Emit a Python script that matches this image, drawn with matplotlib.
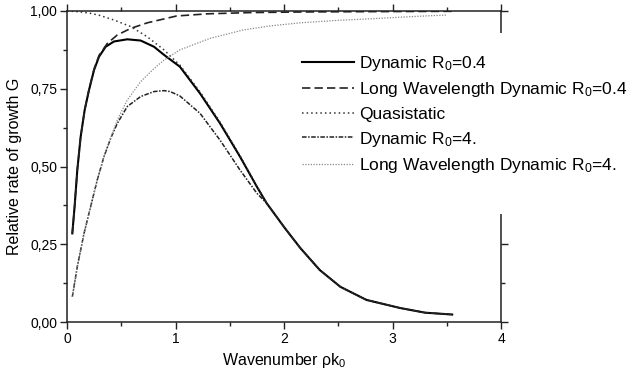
import matplotlib
matplotlib.use("Agg")
import matplotlib.pyplot as plt
from matplotlib.ticker import MultipleLocator, FuncFormatter
from matplotlib.patches import Rectangle

plt.rcParams['font.family'] = ['Liberation Sans', 'DejaVu Sans']
plt.rcParams['mathtext.fontset'] = 'custom'
plt.rcParams['mathtext.rm'] = 'Liberation Sans'
plt.rcParams['mathtext.it'] = 'Liberation Sans:italic'

# ---- data ----
k_dyn04 = [0.049, 0.07, 0.095, 0.126, 0.163, 0.203, 0.249, 0.295, 0.356, 0.433, 0.556,
           0.679, 0.802, 0.894, 1.04, 1.226, 1.41, 1.594, 1.75, 1.84, 2.01, 2.15, 2.33,
           2.52, 2.76, 3.07, 3.3, 3.55]
G_dyn04 = [0.285, 0.371, 0.489, 0.596, 0.682, 0.746, 0.81, 0.853, 0.885, 0.902, 0.909,
           0.905, 0.885, 0.859, 0.821, 0.735, 0.639, 0.532, 0.435, 0.382, 0.301, 0.238, 0.167,
           0.113, 0.071, 0.045, 0.030, 0.024]

k_lw04 = [0.049, 0.07, 0.095, 0.126, 0.163, 0.203, 0.249, 0.295, 0.372, 0.464, 0.587,
          0.74, 0.863, 1.01, 1.3, 1.7, 2.2, 2.8, 3.55]
G_lw04 = [0.285, 0.371, 0.489, 0.596, 0.682, 0.748, 0.813, 0.857, 0.896, 0.923, 0.944,
          0.962, 0.972, 0.984, 0.991, 0.995, 0.997, 0.998, 0.999]

k_qs = [0.0, 0.1, 0.21, 0.30, 0.433, 0.587, 0.74, 0.894, 0.95, 1.04, 1.226,
        1.41, 1.594, 1.75, 1.84, 2.01, 2.15, 2.33, 2.52, 2.76, 3.07, 3.3, 3.55]
G_qs = [1.0, 0.998, 0.993, 0.986, 0.971, 0.95, 0.917, 0.875, 0.856, 0.826, 0.74,
        0.643, 0.535, 0.437, 0.383, 0.301, 0.238, 0.167, 0.113, 0.071, 0.045, 0.030, 0.024]

k_dyn4 = [0.049, 0.095, 0.157, 0.218, 0.279, 0.341, 0.403, 0.464, 0.556, 0.679, 0.802,
          0.894, 0.95, 1.04, 1.226, 1.41, 1.594, 1.75, 1.84, 2.01, 2.15, 2.33, 2.52, 2.76,
          3.07, 3.3, 3.55]
G_dyn4 = [0.081, 0.178, 0.285, 0.371, 0.457, 0.532, 0.591, 0.639, 0.693, 0.725, 0.741,
          0.744, 0.741, 0.727, 0.671, 0.585, 0.489, 0.414, 0.382, 0.301, 0.238, 0.167, 0.113,
          0.071, 0.045, 0.030, 0.024]

k_lw4 = [0.049, 0.095, 0.157, 0.218, 0.279, 0.341, 0.403, 0.464, 0.556, 0.679, 0.802,
         0.894, 1.04, 1.318, 1.625, 1.87, 2.15, 2.45, 2.8, 3.07, 3.3, 3.5]
G_lw4 = [0.081, 0.178, 0.285, 0.371, 0.457, 0.532, 0.593, 0.65, 0.714, 0.773, 0.815,
         0.842, 0.875, 0.912, 0.939, 0.952, 0.962, 0.969, 0.975, 0.98, 0.984, 0.987]

labels = ['Dynamic R$_0$=0.4',
          'Long Wavelength Dynamic R$_0$=0.4',
          'Quasistatic',
          'Dynamic R$_0$=4.',
          'Long Wavelength Dynamic R$_0$=4.']

x_label = 'Wavenumber ρk$_0$'
y_label = 'Relative rate of growth G'

# ---- figure ----
W, H = 627, 378
fig = plt.figure(figsize=(W / 100, H / 100), dpi=100)
ax = fig.add_axes([67 / W, 1 - 322 / H, (501 - 67) / W, (322 - 11) / H])

ax.plot(k_dyn04, G_dyn04, color='black', lw=1.5, ls='-', label=labels[0])
ax.plot(k_lw04, G_lw04, color='#222222', lw=1.2, ls=(0, (5, 2.5)), label=labels[1])
ax.plot(k_qs, G_qs, color='#333333', lw=1.1, ls=(0, (1, 2)), label=labels[2])
ax.plot(k_dyn4, G_dyn4, color='#222222', lw=1.1, ls=(0, (3, 1, 1, 1)), label=labels[3])
ax.plot(k_lw4, G_lw4, color='#888888', lw=0.9, ls=(0, (1, 1.2)), label=labels[4])

ax.set_xlim(0, 4)
ax.set_ylim(0, 1)
ax.xaxis.set_major_locator(MultipleLocator(1))
ax.xaxis.set_minor_locator(MultipleLocator(0.5))
ax.yaxis.set_major_locator(MultipleLocator(0.25))
ax.yaxis.set_minor_locator(MultipleLocator(0.125))
ax.yaxis.set_major_formatter(FuncFormatter(lambda v, p: f'{v:.2f}'.replace('.', ',')))
ax.xaxis.set_major_formatter(FuncFormatter(lambda v, p: f'{v:.0f}'))

ax.tick_params(which='both', direction='out', top=True, right=True,
               labeltop=False, labelright=False, width=1.0, color='#222222')
ax.tick_params(which='major', length=5, labelsize=10, pad=2)
ax.tick_params(which='minor', length=3)
for s in ax.spines.values():
    s.set_linewidth(1.1)
    s.set_color('#222222')

ax.set_xlabel(x_label, fontsize=11.5, labelpad=4)
ax.set_ylabel(y_label, fontsize=11.5, labelpad=6)

# white band hiding the right spine behind the legend
ax.add_patch(Rectangle((494 / W, 1 - 214 / H), 14 / W, (214 - 33) / H,
                       transform=fig.transFigure, facecolor='white',
                       edgecolor='none', clip_on=False, zorder=3))

leg = ax.legend(loc='upper left', bbox_to_anchor=(302 / W, 1 - 54 / H),
                bbox_transform=fig.transFigure, frameon=False, fontsize=12.5,
                handlelength=3.0, handletextpad=0.3, labelspacing=0.43,
                borderpad=0, borderaxespad=0)
leg.set_zorder(5)

fig.savefig('out.png', dpi=100)
